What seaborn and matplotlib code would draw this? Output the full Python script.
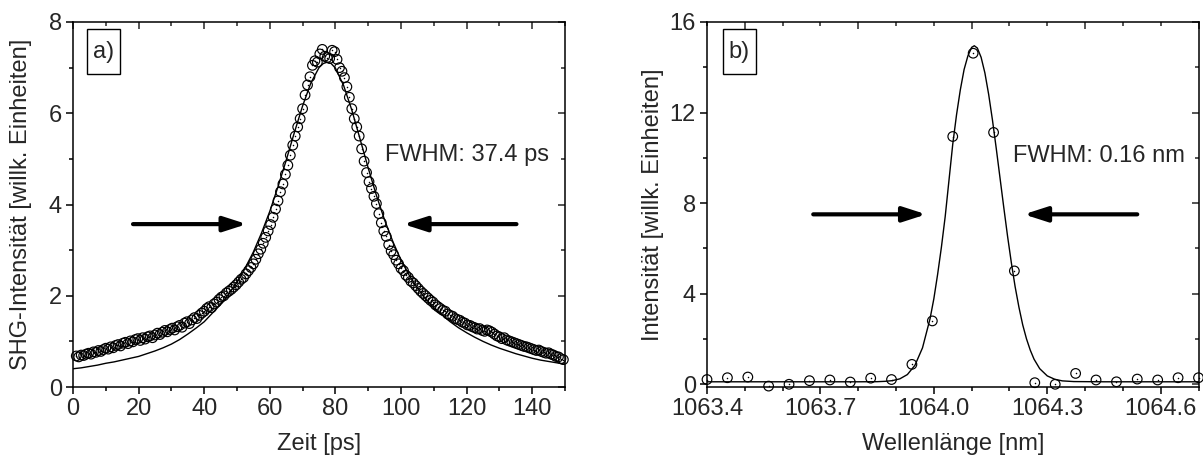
import numpy as np
import pandas as pd
import matplotlib
matplotlib.use("Agg")
import matplotlib.pyplot as plt
import matplotlib.patches as mpatches
import seaborn as sns
from matplotlib.ticker import MultipleLocator

# ---------------- data: panel a (SHG autocorrelation) ----------------
t_start, t_step = 1.0, 0.75
shg_values = [
    0.68, 0.66, 0.70, 0.69, 0.72, 0.74, 0.72, 0.77, 0.76, 0.80,
    0.78, 0.82, 0.85, 0.83, 0.88, 0.86, 0.91, 0.93, 0.90, 0.96,
    0.98, 0.95, 1.01, 0.99, 1.04, 1.06, 1.02, 1.08, 1.05, 1.10,
    1.12, 1.08, 1.14, 1.18, 1.15, 1.20, 1.24, 1.21, 1.26, 1.29,
    1.25, 1.32, 1.35, 1.31, 1.40, 1.43, 1.39, 1.47, 1.52, 1.50,
    1.57, 1.62, 1.66, 1.72, 1.76, 1.74, 1.82, 1.86, 1.92, 1.97,
    2.00, 2.06, 2.10, 2.14, 2.19, 2.24, 2.30, 2.36, 2.40, 2.48,
    2.55, 2.62, 2.70, 2.80, 2.92, 3.02, 3.15, 3.28, 3.42, 3.56,
    3.72, 3.90, 4.08, 4.28, 4.45, 4.66, 4.86, 5.08, 5.30, 5.50,
    5.70, 5.88, 6.10, 6.40, 6.62, 6.80, 7.05, 7.15, 7.12, 7.30,
    7.40, 7.25, 7.22, 7.20, 7.38, 7.35, 7.18, 7.00, 6.92, 6.78,
    6.58, 6.35, 6.10, 5.88, 5.70, 5.50, 5.22, 4.95, 4.70, 4.50,
    4.35, 4.18, 4.02, 3.80, 3.60, 3.42, 3.30, 3.12, 2.98, 2.90,
    2.78, 2.70, 2.60, 2.55, 2.45, 2.40, 2.32, 2.28, 2.22, 2.16,
    2.10, 2.05, 2.00, 1.95, 1.90, 1.86, 1.80, 1.76, 1.72, 1.68,
    1.66, 1.60, 1.57, 1.55, 1.50, 1.48, 1.46, 1.42, 1.40, 1.36,
    1.35, 1.32, 1.30, 1.27, 1.28, 1.24, 1.22, 1.25, 1.23, 1.20,
    1.16, 1.12, 1.10, 1.06, 1.08, 1.03, 1.01, 0.99, 0.97, 0.95,
    0.93, 0.91, 0.89, 0.88, 0.86, 0.84, 0.82, 0.80, 0.81, 0.78,
    0.76, 0.74, 0.75, 0.72, 0.70, 0.67, 0.66, 0.62, 0.60,
]
shg_time = t_start + t_step * np.arange(len(shg_values))

fit_a_time = [0, 2.5, 5, 7.5, 10, 12.5, 15, 17.5, 20, 22.5, 25, 27.5, 30, 32.5,
              35, 37.5, 40, 42.5, 45, 47.5, 50, 52.5, 55, 57.5, 60, 62.5, 65,
              67.5, 70, 72.5, 75, 76.3, 77.5, 78.7, 80, 82.5, 85, 87.5, 90,
              92.5, 95, 97.5, 100, 102.5, 105, 107.5, 110, 112.5, 115, 117.5,
              120, 122.5, 125, 127.5, 130, 132.5, 135, 137.5, 140, 142.5, 145,
              147.5, 150]
fit_a_vals = [0.40, 0.42, 0.45, 0.48, 0.52, 0.55, 0.59, 0.63, 0.67, 0.73, 0.79,
              0.86, 0.94, 1.04, 1.16, 1.29, 1.43, 1.62, 1.81, 2.04, 2.30, 2.61,
              2.96, 3.38, 3.85, 4.39, 4.97, 5.58, 6.16, 6.66, 7.00, 7.09, 7.12,
              7.09, 6.99, 6.61, 6.07, 5.44, 4.80, 4.20, 3.66, 3.19, 2.78, 2.45,
              2.17, 1.93, 1.74, 1.58, 1.43, 1.30, 1.19, 1.09, 1.00, 0.92, 0.85,
              0.79, 0.73, 0.68, 0.63, 0.59, 0.56, 0.53, 0.50]

# ---------------- data: panel b (spectrum) ----------------
wl_points = [1063.400, 1063.454, 1063.508, 1063.563, 1063.617, 1063.671, 1063.725,
             1063.779, 1063.833, 1063.888, 1063.942, 1063.996, 1064.050, 1064.104,
             1064.158, 1064.213, 1064.267, 1064.321, 1064.375, 1064.429, 1064.483,
             1064.538, 1064.592, 1064.646, 1064.700]
int_points = [0.20, 0.28, 0.31, -0.09, -0.01, 0.15, 0.18, 0.09, 0.26, 0.20,
              0.87, 2.79, 10.94, 14.62, 11.12, 5.00, 0.06, -0.01, 0.47, 0.18,
              0.10, 0.22, 0.18, 0.28, 0.28]

fit_b_wl = [1063.40, 1063.80, 1063.85, 1063.87, 1063.89, 1063.91, 1063.93, 1063.95,
            1063.97, 1063.99, 1064.00, 1064.01, 1064.02, 1064.03, 1064.04, 1064.05,
            1064.06, 1064.07, 1064.08, 1064.09, 1064.10, 1064.107, 1064.115,
            1064.125, 1064.135, 1064.145, 1064.155, 1064.165, 1064.175, 1064.185,
            1064.195, 1064.205, 1064.215, 1064.225, 1064.235, 1064.245, 1064.255,
            1064.265, 1064.28, 1064.30, 1064.32, 1064.34, 1064.37, 1064.45, 1064.70]
fit_b_vals = [0.10, 0.10, 0.105, 0.12, 0.15, 0.23, 0.42, 0.83, 1.60, 2.89, 3.77,
              4.85, 6.05, 7.40, 9.00, 10.60, 11.90, 13.00, 13.90, 14.50, 14.88,
              14.95, 14.85, 14.44, 13.75, 12.80, 11.67, 10.42, 9.11, 7.80, 6.53,
              5.36, 4.30, 3.40, 2.62, 2.00, 1.50, 1.10, 0.68, 0.36, 0.21, 0.14,
              0.11, 0.10, 0.10]

df_a = pd.DataFrame({"t": shg_time, "v": shg_values})
df_fa = pd.DataFrame({"t": fit_a_time, "v": fit_a_vals})
df_b = pd.DataFrame({"wl": wl_points, "v": int_points})
df_fb = pd.DataFrame({"wl": fit_b_wl, "v": fit_b_vals})

# ---------------- styling ----------------
sns.set_style("white")
plt.rcParams["font.family"] = ["Liberation Sans", "DejaVu Sans"]
FS = 17

fig = plt.figure(figsize=(12.03, 4.62), dpi=100)
ax_a = fig.add_axes([73 / 1203, 1 - 387 / 462, 492 / 1203, 365 / 462])
ax_b = fig.add_axes([707 / 1203, 1 - 387 / 462, 491.5 / 1203, 365 / 462])


def draw_points(ax, data, x, y):
    sns.scatterplot(data=data, x=x, y=y, ax=ax, marker="o", s=48,
                    facecolor="none", edgecolor="black", linewidth=0.85,
                    clip_on=False, zorder=3, legend=False)
    sns.scatterplot(data=data, x=x, y=y, ax=ax, marker="o", s=1.2,
                    color="black", linewidth=0, clip_on=False, zorder=4, legend=False)


def style_axes(ax, xmaj, xmin, ymaj, ymin):
    for sp in ax.spines.values():
        sp.set_visible(True)
        sp.set_linewidth(1.1)
        sp.set_color("black")
    ax.xaxis.set_major_locator(MultipleLocator(xmaj))
    ax.xaxis.set_minor_locator(MultipleLocator(xmin))
    ax.yaxis.set_major_locator(MultipleLocator(ymaj))
    ax.yaxis.set_minor_locator(MultipleLocator(ymin))
    ax.tick_params(which="both", direction="out", bottom=True, left=True,
                   top=False, right=False, width=1.1, color="black",
                   labelsize=FS, pad=3)
    ax.tick_params(which="major", length=5)
    ax.tick_params(which="minor", length=3)
    top = ax.secondary_xaxis("top")
    top.xaxis.set_major_locator(MultipleLocator(xmaj))
    top.xaxis.set_minor_locator(MultipleLocator(xmin))
    top.tick_params(which="both", direction="in", labeltop=False, width=1.1)
    top.tick_params(which="major", length=5)
    top.tick_params(which="minor", length=3)
    top.spines["top"].set_visible(False)
    right = ax.secondary_yaxis("right")
    right.yaxis.set_major_locator(MultipleLocator(ymaj))
    right.yaxis.set_minor_locator(MultipleLocator(ymin))
    right.tick_params(which="both", direction="in", labelright=False, width=1.1)
    right.tick_params(which="major", length=5)
    right.tick_params(which="minor", length=3)
    right.spines["right"].set_visible(False)


def arrow(ax, start, end):
    ax.annotate("", xy=end, xytext=start,
                arrowprops=dict(arrowstyle="-|>,head_length=1.4,head_width=0.45",
                                lw=3, color="black", shrinkA=0, shrinkB=0,
                                capstyle="round"))


def panel_tag(ax, label, x0, x1):
    y0, y1 = 0.8575, 0.98
    ax.add_patch(mpatches.Rectangle((x0, y0), x1 - x0, y1 - y0,
                                    transform=ax.transAxes, fill=True,
                                    fc="white", ec="black", lw=1.0, zorder=5))
    ax.text((x0 + x1) / 2, (y0 + y1) / 2, label, transform=ax.transAxes,
            fontsize=FS, ha="center", va="center", zorder=6)


# ---------------- panel a ----------------
sns.lineplot(data=df_fa, x="t", y="v", ax=ax_a, color="black", linewidth=1.0,
             zorder=2)
draw_points(ax_a, df_a, "t", "v")
ax_a.set_xlim(0, 150)
ax_a.set_ylim(0, 8)
style_axes(ax_a, 20, 10, 2, 1)
ax_a.set_xlabel("Zeit [ps]", fontsize=FS)
ax_a.set_ylabel("SHG-Intensität [willk. Einheiten]", fontsize=FS)
ax_a.xaxis.set_label_coords(0.5, -0.127)
ax_a.yaxis.set_label_coords(-0.083, 0.5)
arrow(ax_a, (18.3, 3.57), (53.0, 3.57))
arrow(ax_a, (135.2, 3.57), (100.7, 3.57))
ax_a.text(95.1, 5.09, "FWHM: 37.4 ps", fontsize=FS, ha="left", va="center")
panel_tag(ax_a, "a)", 0.0278, 0.0955)

# ---------------- panel b ----------------
sns.lineplot(data=df_fb, x="wl", y="v", ax=ax_b, color="black", linewidth=1.0,
             zorder=2)
draw_points(ax_b, df_b, "wl", "v")
ax_b.set_xlim(1063.4, 1064.7)
ax_b.set_ylim(-0.13, 16)
style_axes(ax_b, 0.3, 0.1, 4, 2)
ax_b.set_xticks([1063.4, 1063.7, 1064.0, 1064.3, 1064.6])
ax_b.set_xticklabels(["1063.4", "1063.7", "1064.0", "1064.3", "1064.6"])
ax_b.set_xlabel("Wellenlänge [nm]", fontsize=FS)
ax_b.set_ylabel("Intensität [willk. Einheiten]", fontsize=FS)
ax_b.xaxis.set_label_coords(0.5, -0.127)
ax_b.yaxis.set_label_coords(-0.0875, 0.5)
arrow(ax_b, (1063.681, 7.5), (1063.980, 7.5))
arrow(ax_b, (1064.538, 7.5), (1064.238, 7.5))
ax_b.text(1064.209, 10.1, "FWHM: 0.16 nm", fontsize=FS, ha="left", va="center")
panel_tag(ax_b, "b)", 0.032, 0.100)

fig.savefig("out.png", dpi=100)
